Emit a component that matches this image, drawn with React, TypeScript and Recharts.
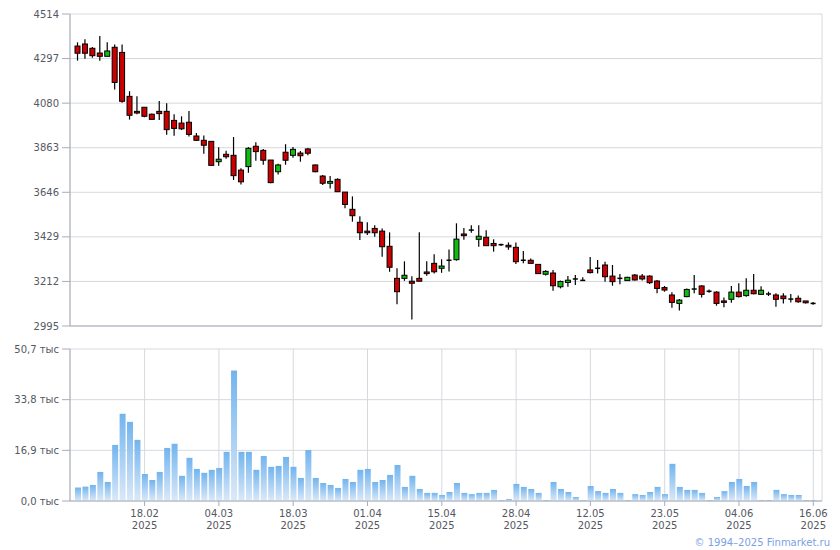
import React from 'react';
import { ComposedChart, Bar, XAxis, YAxis, CartesianGrid } from 'recharts';

// OHLC per trading day (index 0..99)
const opens = [4358,4368,4347,4324,4308,4352,4327,4113,4040,4060,4026,4040,4040,3996,3983,3987,3920,3899,3894,3795,3831,3826,3754,3771,3870,3850,3803,3746,3841,3826,3837,3857,3779,3725,3690,3709,3647,3563,3500,3457,3470,3457,3383,3227,3227,3213,3227,3258,3300,3276,3315,3318,3443,3462,3417,3427,3397,3391,3388,3378,3315,3315,3295,3247,3253,3186,3207,3224,3217,3268,3276,3292,3238,3227,3216,3243,3238,3238,3214,3182,3146,3105,3138,3175,3190,3164,3160,3117,3125,3160,3143,3169,3149,3151,3146,3141,3126,3130,3117,3105];
const highs = [4376,4391,4353,4407,4376,4366,4366,4138,4113,4060,4030,4090,4079,4026,4016,4042,3935,3923,3894,3865,3848,3915,3763,3866,3889,3857,3803,3785,3880,3866,3847,3862,3781,3730,3725,3714,3647,3626,3529,3500,3485,3470,3451,3276,3310,3237,3451,3310,3344,3320,3368,3495,3472,3485,3485,3461,3417,3395,3402,3402,3360,3324,3297,3266,3268,3216,3238,3243,3232,3331,3316,3308,3292,3248,3235,3248,3248,3242,3219,3190,3159,3126,3177,3243,3193,3173,3164,3134,3190,3203,3227,3248,3188,3162,3154,3154,3151,3144,3117,3112];
const lows = [4287,4296,4301,4287,4308,4147,4082,4000,4026,4011,4001,3998,3926,3921,3949,3917,3896,3834,3777,3775,3809,3706,3684,3741,3800,3780,3690,3732,3780,3814,3795,3826,3744,3681,3664,3647,3568,3503,3414,3438,3430,3332,3259,3101,3215,3027,3213,3240,3250,3254,3260,3313,3415,3449,3381,3386,3357,3385,3366,3297,3300,3300,3248,3241,3167,3178,3186,3195,3214,3251,3251,3211,3191,3198,3214,3216,3216,3199,3154,3162,3084,3070,3135,3154,3134,3157,3094,3086,3108,3134,3138,3149,3146,3141,3089,3105,3110,3108,3105,3099];
const closes = [4323,4323,4311,4308,4334,4181,4089,4021,4032,4016,4001,4029,3951,3957,3955,3928,3899,3875,3777,3807,3819,3727,3697,3860,3844,3802,3693,3779,3802,3855,3824,3836,3746,3690,3699,3649,3587,3532,3449,3449,3449,3381,3281,3162,3242,3203,3213,3250,3259,3287,3315,3418,3435,3462,3432,3386,3386,3391,3380,3308,3315,3300,3250,3261,3191,3212,3218,3224,3217,3255,3276,3235,3211,3227,3232,3219,3224,3206,3178,3170,3110,3121,3173,3175,3149,3164,3105,3110,3160,3138,3169,3152,3169,3151,3125,3128,3126,3113,3108,3105];
// volume, thousands
const volumes = [4.5,4.8,5.35,9.7,6.35,18.7,29.1,26.4,20.4,9.0,7.0,9.7,17.7,19.1,8.4,14.4,10.7,9.4,10.4,11.0,16.4,43.5,16.4,16.4,10.4,15.0,11.4,11.7,14.7,11.4,7.7,17.0,7.7,6.0,5.35,4.35,7.35,6.35,10.4,10.7,6.35,7.0,8.7,12.0,4.7,8.4,4.0,2.7,2.7,2.0,3.0,6.0,2.7,2.3,2.7,2.7,3.7,0.33,0.67,5.7,4.7,4.0,2.7,0.33,6.35,4.0,3.0,1.34,0.33,5.0,3.3,2.7,4.0,2.7,0.33,2.3,2.0,3.0,4.7,2.3,12.4,4.7,3.7,3.7,2.7,0.33,1.34,3.3,6.35,7.35,5.0,6.35,0.33,0.33,3.7,2.3,2.0,2.0,0.33,0.33];

const tickIdx = [9,19,29,39,49,59,69,79,89,99];
const tickDates = ['18.02','04.03','18.03','01.04','15.04','28.04','12.05','23.05','04.06','16.06'];
const tickYear = '2025';
const priceTicks = [2995,3212,3429,3646,3863,4080,4297,4514];
const volTicks = [0,16.9,33.8,50.7];

const rows = opens.map((o, i) => ({ i, o, h: highs[i], l: lows[i], c: closes[i], v: volumes[i] }));

const FONT = 'DejaVu Sans';
const TXT = '#555862';
const AXIS = '#a9acb9';
const GRID = '#d5d9de';
const RED = '#cc0000';
const GREEN = '#11bb11';
const X_DOMAIN: [number, number] = [-1.04, 100.17];

const Candle = (props: any) => {
  const { x, y, width, height, payload } = props;
  if (!payload) return null;
  const top = Math.min(y, y + height);
  const bot = Math.max(y, y + height);
  const { o, h, l, c } = payload;
  const k = h > l ? (bot - top) / (h - l) : 0;
  const py = (p: number) => bot - (p - l) * k;
  const cx = x + width / 2;
  const yo = py(o);
  const yc = py(c);
  const bt = Math.min(yo, yc);
  const bb = Math.max(yo, yc);
  const doji = Math.abs(c - o) < 1;
  return (
    <g>
      <line x1={cx} x2={cx} y1={top} y2={bot} stroke="#000" strokeWidth={1.2} />
      {doji ? (
        <line x1={cx - 2.5} x2={cx + 2.5} y1={yo} y2={yo} stroke="#000" strokeWidth={1.5} />
      ) : (
        <rect x={cx - 2.5} y={bt} width={5} height={Math.max(bb - bt, 1)} fill={c > o ? GREEN : RED} stroke="#000" strokeWidth={1} />
      )}
    </g>
  );
};

const XTick = (props: any) => {
  const { x, y, payload } = props;
  const k = tickIdx.indexOf(payload.value);
  if (k < 0) return null;
  return (
    <g>
      <text x={x} y={y + 9} textAnchor="middle" fontFamily={FONT} fontSize={10} fill={TXT}>{tickDates[k]}</text>
      <text x={x} y={y + 21} textAnchor="middle" fontFamily={FONT} fontSize={10} fill={TXT}>{tickYear}</text>
    </g>
  );
};

const fmtVol = (v: number) => v.toFixed(1).replace('.', ',') + ' тыс';

export default function App() {
  return (
    <div style={{ position: 'absolute', left: 0, top: 0, width: 840, height: 550, background: '#fff' }}>
      <div style={{ position: 'absolute', left: 0, top: 0 }}>
        <ComposedChart width={840} height={332} data={rows} margin={{ top: 14, right: 18, left: 0, bottom: 0 }}>
          <CartesianGrid stroke={GRID} strokeWidth={1} />
          <XAxis dataKey="i" type="number" domain={X_DOMAIN} allowDataOverflow ticks={tickIdx} interval={0}
            height={6} tick={false} tickSize={5} stroke={AXIS} axisLine={{ stroke: AXIS }} tickLine={{ stroke: AXIS }} />
          <YAxis type="number" domain={[2995, 4514]} ticks={priceTicks} interval={0} allowDataOverflow width={70}
            tickSize={8} tickMargin={3} axisLine={{ stroke: AXIS }} tickLine={{ stroke: AXIS }}
            tick={{ fontFamily: FONT, fontSize: 10, fill: TXT }} />
          <Bar dataKey={(d: any) => [d.l, d.h]} barSize={5} shape={<Candle />} isAnimationActive={false} />
        </ComposedChart>
      </div>
      <div style={{ position: 'absolute', left: 0, top: 340 }}>
        <ComposedChart width={840} height={200} data={rows} margin={{ top: 9, right: 18, left: 0, bottom: 0 }}>
          <defs>
            <linearGradient id="volGrad" x1="0" y1="0" x2="0" y2="1">
              <stop offset="0%" stopColor="#72b4ee" />
              <stop offset="100%" stopColor="#dbe9f8" />
            </linearGradient>
          </defs>
          <CartesianGrid stroke={GRID} strokeWidth={1} />
          <XAxis dataKey="i" type="number" domain={X_DOMAIN} allowDataOverflow ticks={tickIdx} interval={0}
            height={39} tickSize={5} axisLine={{ stroke: AXIS }} tickLine={{ stroke: AXIS }} tick={<XTick />} />
          <YAxis type="number" domain={[0, 50.7]} ticks={volTicks} interval={0} allowDataOverflow width={70}
            tickSize={8} tickMargin={3} axisLine={{ stroke: AXIS }} tickLine={{ stroke: AXIS }}
            tickFormatter={fmtVol} tick={{ fontFamily: FONT, fontSize: 10, fill: TXT }} />
          <Bar dataKey="v" barSize={6} fill="url(#volGrad)" isAnimationActive={false} />
        </ComposedChart>
      </div>
      <div style={{ position: 'absolute', left: 0, top: 537, width: 830, textAlign: 'right', fontFamily: FONT, fontSize: 10, lineHeight: '12px', color: '#7b9fe6' }}>
        © 1994–2025 Finmarket.ru
      </div>
    </div>
  );
}
